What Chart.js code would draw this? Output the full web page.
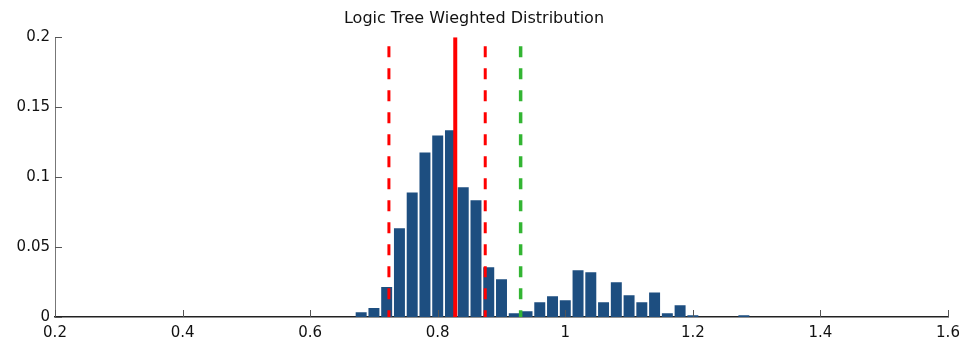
<!DOCTYPE html>
<html>
<head>
<meta charset="utf-8">
<script src="https://cdn.jsdelivr.net/npm/chart.js@4"></script>
<style>
  body { margin: 0; background: #fff; }
  #wrap { width: 970px; height: 341px; }
</style>
</head>
<body>
<div id="wrap"><canvas id="distChart" width="970" height="341"></canvas></div>
<script>
// histogram bin centres and weights
const binCenters = [0.68, 0.70, 0.72, 0.74, 0.76, 0.78, 0.80, 0.82, 0.84, 0.86,
  0.88, 0.90, 0.92, 0.94, 0.96, 0.98, 1.00, 1.02, 1.04, 1.06,
  1.08, 1.10, 1.12, 1.14, 1.16, 1.18, 1.20, 1.28];
const weights = [0.0034, 0.0064, 0.0214, 0.0634, 0.089, 0.1176, 0.1298, 0.1334, 0.0927, 0.0834,
  0.0355, 0.0269, 0.0026, 0.0041, 0.0105, 0.0148, 0.012, 0.0334, 0.032, 0.0105,
  0.0248, 0.0155, 0.0105, 0.0176, 0.0026, 0.0084, 0.0012, 0.0012];

// summary markers
const meanValue = 0.8275;
const boundValues = [0.7235, 0.8745];
const referenceValue = 0.930;

const xTicks = [0.2, 0.4, 0.6, 0.8, 1, 1.2, 1.4, 1.6];
const yTicks = [0, 0.05, 0.1, 0.15, 0.2];

const yMax = 0.2;
const FONT = "'DejaVu Sans', Verdana, sans-serif";

function vline(x, color, width, dashed) {
  return {
    type: "line",
    data: [{ x: x, y: yMax }, { x: x, y: 0 }],
    borderColor: color,
    borderWidth: width,
    borderDash: dashed ? [11, 11] : [],
    borderDashOffset: dashed ? 13 : 0,
    borderCapStyle: "butt",
    pointRadius: 0,
    fill: false,
    order: 0,
  };
}

// plain number labels: 1 instead of 1.0, 0.1 instead of 0.10
function plainLabel(value) {
  return String(Number(value.toFixed(3)));
}

// inward tick marks, matlab style
const innerTicks = {
  id: "innerTicks",
  afterDraw(chart) {
    const ctx = chart.ctx;
    const area = chart.chartArea;
    const sx = chart.scales.x;
    const sy = chart.scales.y;
    ctx.save();
    ctx.lineWidth = 1;
    ctx.strokeStyle = "#555";
    ctx.beginPath();
    xTicks.forEach(function (v) {
      const px = Math.round(sx.getPixelForValue(v)) + 0.5;
      ctx.moveTo(px, area.bottom);
      ctx.lineTo(px, area.bottom - 7);
    });
    yTicks.forEach(function (v) {
      const py = Math.round(sy.getPixelForValue(v)) + 0.5;
      ctx.moveTo(area.left, py);
      ctx.lineTo(area.left + 7, py);
    });
    ctx.stroke();
    ctx.restore();
  },
};

const ctx = document.getElementById("distChart").getContext("2d");
const distChart = new Chart(ctx, {
  type: "bar",
  data: {
    datasets: [
      vline(boundValues[0], "#ff0000", 3, true),
      vline(meanValue, "#ff0000", 4, false),
      vline(boundValues[1], "#ff0000", 3, true),
      vline(referenceValue, "#33b533", 3.5, true),
      {
        type: "bar",
        data: binCenters.map(function (c, i) { return { x: c, y: weights[i] }; }),
        backgroundColor: "rgb(29, 78, 128)",
        borderWidth: 0,
        categoryPercentage: 1,
        barPercentage: 0.86,
        order: 1,
      },
    ],
  },
  plugins: [innerTicks],
  options: {
    responsive: false,
    animation: false,
    layout: { padding: { left: 0, right: 22, top: 0, bottom: 0 } },
    scales: {
      x: {
        type: "linear",
        offset: false,
        min: 0.2,
        max: 1.6,
        afterBuildTicks(scale) {
          scale.ticks = xTicks.map(function (v) { return { value: v }; });
        },
        afterFit(scale) { scale.height = 24; },
        grid: { display: false, drawTicks: false, offset: false },
        border: { display: true, color: "#222", width: 1.5 },
        ticks: {
          padding: 7,
          maxRotation: 0,
          autoSkip: false,
          color: "#111",
          callback: plainLabel,
          font: { family: FONT, size: 15 },
        },
      },
      y: {
        min: 0,
        max: yMax,
        afterBuildTicks(scale) {
          scale.ticks = yTicks.map(function (v) { return { value: v }; });
        },
        afterFit(scale) { scale.width = 55; },
        grid: { display: false, drawTicks: false },
        border: { display: true, color: "#777", width: 1 },
        ticks: {
          padding: 5,
          color: "#111",
          callback: plainLabel,
          font: { family: FONT, size: 15 },
        },
      },
    },
    plugins: {
      legend: { display: false },
      tooltip: { enabled: false },
      title: {
        display: true,
        text: "Logic Tree Wieghted Distribution",
        color: "#111",
        font: { family: FONT, size: 16, weight: "normal" },
        padding: { top: 9, bottom: 9 },
      },
    },
  },
});
</script>
</body>
</html>
